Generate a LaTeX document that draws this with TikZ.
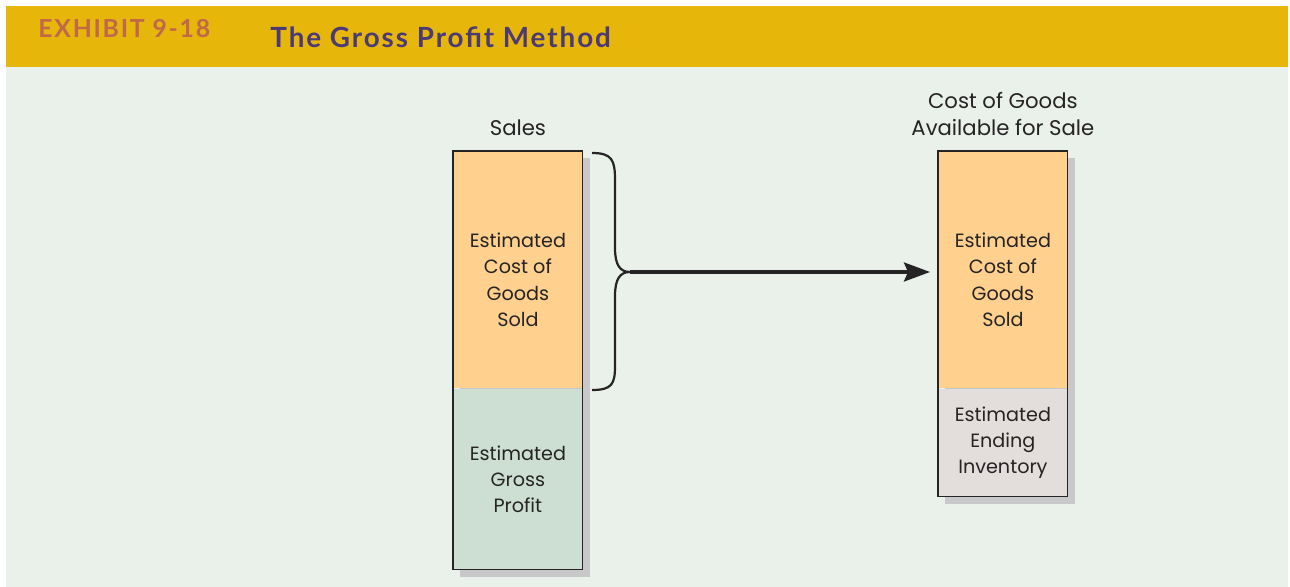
\documentclass[tikz,border=0pt]{standalone}
\usepackage{fontspec}
\setmainfont{Poppins}
\newfontfamily\headfont[LetterSpace=7]{Lato}
\usetikzlibrary{positioning,arrows.meta,backgrounds}
\definecolor{band}{HTML}{E6B60A}
\definecolor{paper}{HTML}{EAF1EA}
\definecolor{exhibit}{HTML}{C0684A}
\definecolor{titlepurple}{HTML}{4B3A75}
\definecolor{cogsfill}{HTML}{FFD08E}
\definecolor{profitfill}{HTML}{CCDFD2}
\definecolor{invfill}{HTML}{E3DEDC}
\definecolor{shade}{HTML}{C8C8CA}
\definecolor{ink}{HTML}{262324}

\begin{document}
\begin{tikzpicture}[
  x=0.5pt, y=-0.5pt,
  font=\fontsize{9.6}{13.2}\selectfont, text=ink,
  part/.style={align=center, inner sep=0pt, minimum width=64.5pt},
  cogs/.style={part, fill=cogsfill},
  profit/.style={part, fill=profitfill},
  inv/.style={part, fill=invfill},
  frame/.style={draw=ink, line width=0.6pt},
  shadow/.style={fill=shade},
  lbl/.style={align=center, inner sep=0pt, font=\fontsize{10.6}{13.5}\selectfont},
  bracepath/.style={draw=ink, line width=1.1pt},
  arr/.style={-{Stealth[length=13pt, width=9.5pt, inset=2pt]}, line width=1.6pt, draw=ink, shorten >=4pt},
]
\useasboundingbox (0,0) rectangle (1290,587);
\begin{scope}[on background layer]
\fill[white] (0,0) rectangle (1290,587);
\fill[paper] (6,67) rectangle (1288,587);
\fill[band] (6,6) rectangle (1288,67);
\end{scope}

% heading
\node[anchor=base west, inner sep=0pt, font=\headfont\bfseries\fontsize{12.4}{14}\selectfont, text=exhibit] (exhibit) at (38,38) {EXHIBIT 9-18};
\node[anchor=base west, inner sep=0pt, font=\headfont\bfseries\fontsize{13.9}{15}\selectfont, text=titlepurple] (title) at (270,48) {The Gross Profit Method};

% sales column
\node[cogs, minimum height=118.5pt, anchor=north west] (salesCogs) at (453,151) {\rule{0pt}{17pt}Estimated\\Cost of\\Goods\\Sold};
\node[profit, minimum height=90pt, below=0pt of salesCogs] (grossProfit) {Estimated\\Gross\\Profit};
\node[lbl, above=7.5pt of salesCogs] (salesLbl) {Sales};

% cost of goods available column
\node[cogs, minimum height=118.5pt, anchor=north west] (availCogs) at (938,151) {\rule{0pt}{17pt}Estimated\\Cost of\\Goods\\Sold};
\node[inv, minimum height=53.5pt, below=0pt of availCogs] (endInv) {Estimated\\Ending\\Inventory};
\node[lbl, above=7.5pt of availCogs] (availLbl) {Cost of Goods\\Available for Sale};

\begin{scope}[on background layer]
\fill[shadow] ([xshift=3.5pt,yshift=-3.5pt]salesCogs.north west) rectangle ([xshift=3.5pt,yshift=-3.5pt]grossProfit.south east);
\fill[shadow] ([xshift=3.5pt,yshift=-3.5pt]availCogs.north west) rectangle ([xshift=3.5pt,yshift=-3.5pt]endInv.south east);
\end{scope}
\draw[frame] (salesCogs.north west) rectangle (grossProfit.south east);
\draw[frame] (availCogs.north west) rectangle (endInv.south east);

% brace and arrow
\coordinate (braceTip) at (630,272);
\draw[bracepath] (592,153) .. controls (612,153) and (615,160) .. (615,180) -- (615,248)
  .. controls (615,265) and (620,272) .. (braceTip)
  .. controls (620,272) and (615,279) .. (615,296) -- (615,366)
  .. controls (615,384) and (612,390) .. (592,390);
\draw[arr] (braceTip) -- (availCogs.west |- braceTip);
\end{tikzpicture}
\end{document}
